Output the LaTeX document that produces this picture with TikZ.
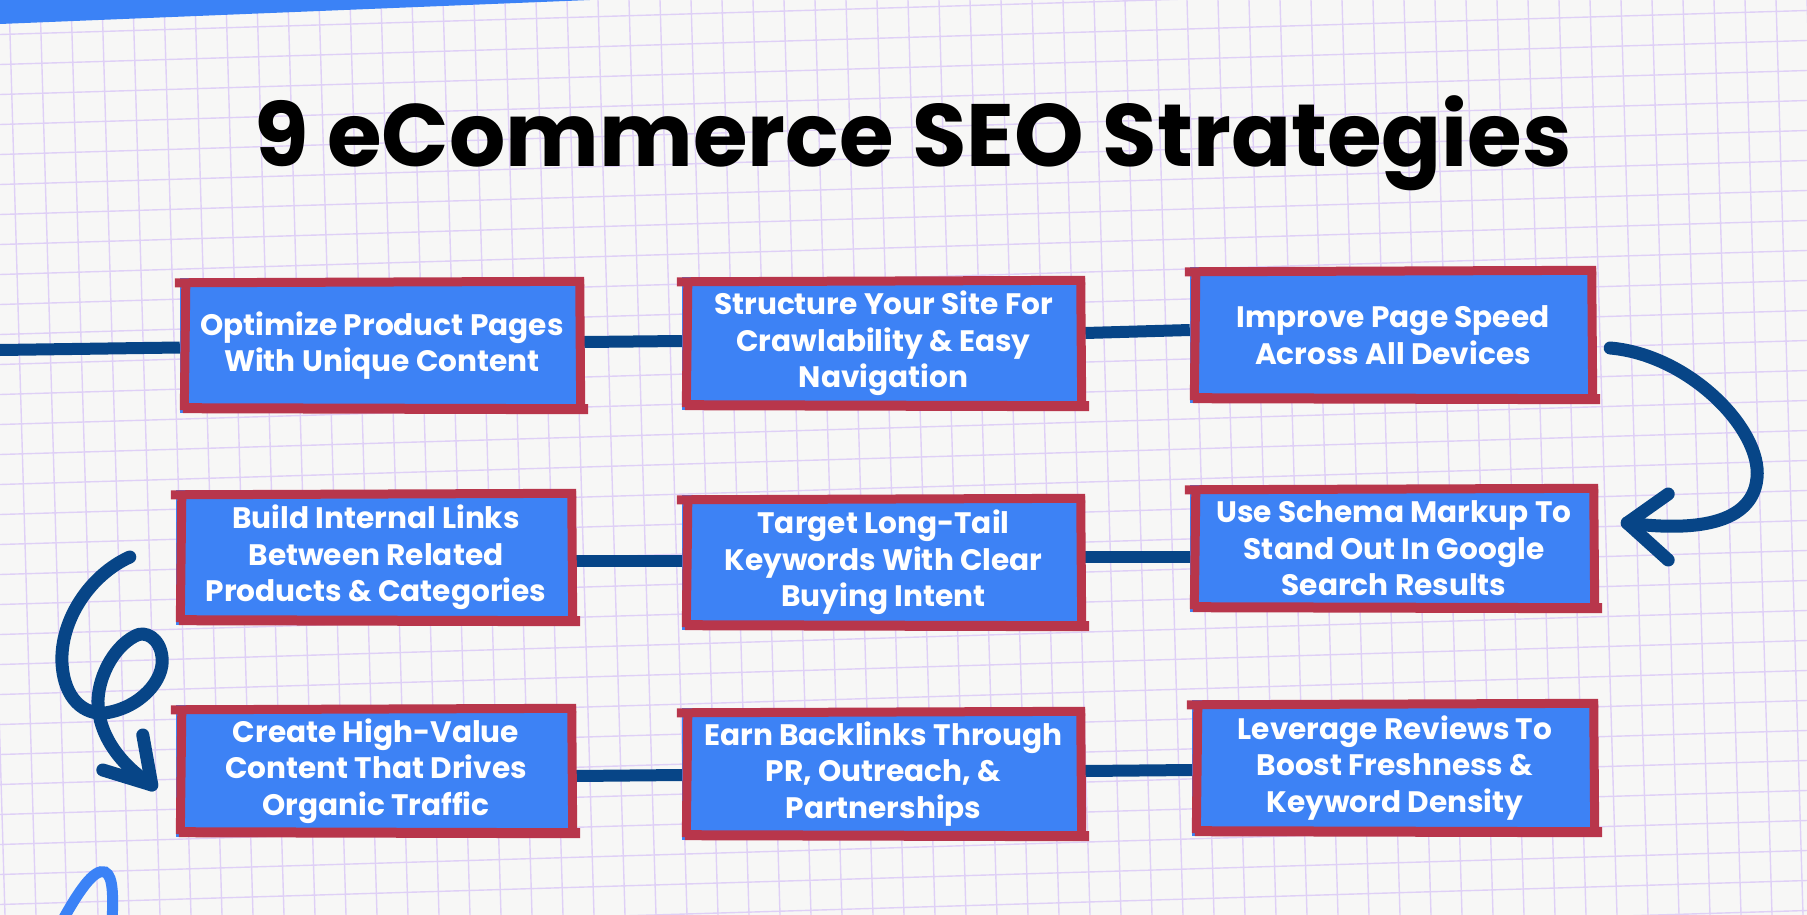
\documentclass[tikz,border=0pt]{standalone}
\usepackage{fontspec}
\usetikzlibrary{calc}
\newfontfamily\poppfam{Poppins}
\newcommand\mytitlefont{\poppfam\bfseries\fontsize{88.5}{100}\selectfont}
\newcommand\myboxfont{\poppfam\bfseries\fontsize{29.6}{36.5}\selectfont}
\definecolor{paper}{HTML}{F7F7F6}
\definecolor{gridc}{HTML}{DFD0F6}
\definecolor{boxblue}{HTML}{3D82F5}
\definecolor{boxred}{HTML}{B8364B}
\definecolor{navy}{HTML}{074587}
\definecolor{lightblue}{HTML}{3B82F6}
\pgfdeclarelayer{paperlayer}
\pgfdeclarelayer{linklayer}
\pgfsetlayers{paperlayer,linklayer,main}
\tikzset{
  stratbox/.style={fill=boxblue, inner sep=0pt, text=white, align=center, font=\myboxfont},
  redline/.style={draw=boxred, line width=9pt},
  link/.style={draw=navy, line width=12pt},
  curvearrow/.style={draw=navy, line width=13pt, line cap=round, line join=round},
  gridline/.style={draw=gridc, line width=1.4pt},
}
\newcommand\sketchbox[1]{%
  \draw[redline] ($(#1.north west)+(-5,5)$) -- ($(#1.north east)+(0,3.5)$);
  \draw[redline] ($(#1.north east)+(-4.5,1)$) -- ($(#1.south east)+(-3.5,-6)$);
  \draw[redline, line width=10pt] ($(#1.south west)+(3,-5)$) -- ($(#1.south east)+(4,-4)$);
  \draw[redline] ($(#1.north west)+(6,7)$) -- ($(#1.south west)+(4.5,-3)$);
}
\begin{document}
\begin{tikzpicture}[x=1pt,y=-1pt]
\useasboundingbox (0,0) rectangle (1807,915);
\begin{pgfonlayer}{paperlayer}
  \fill[paper] (0,0) rectangle (1807,915);
  \begin{scope}
    \clip (0,0) rectangle (1807,915);
    \foreach \i in {0,...,33} {
      \draw[gridline] (0,{4.5+30*\i}) -- (1807,{4.5+30*\i-54});
    }
    \foreach \i in {-1,...,58} {
      \draw[gridline] ({9+31*\i},0) -- ({9+31*\i+27},915);
    }
    % top band
    \fill[lightblue] (0,0) -- (590,0) -- (0,24) -- cycle;
    % bottom-left swoosh
    \draw[lightblue, line width=11pt, line cap=round] (60,925) .. controls (78,892) and (94,868) .. (105,872) .. controls (114,876) and (113,900) .. (112,925);
  \end{scope}
\end{pgfonlayer}

% title
\node[font=\mytitlefont, anchor=base, text=black] (title) at (913,166) {9 eCommerce SEO Strategies};

% boxes
\node[stratbox, minimum width=404, minimum height=135] (b1) at (382,345.5) {Optimize Product Pages\\With Unique Content};
\node[stratbox, minimum width=403, minimum height=133] (b2) at (883.5,343.5) {Structure Your Site For\\Crawlability \& Easy\\Navigation};
\node[stratbox, minimum width=406, minimum height=136] (b3) at (1393,335) {Improve Page Speed\\Across All Devices};
\node[stratbox, minimum width=400, minimum height=135] (b4) at (376,557.5) {Build Internal Links\\Between Related\\Products \& Categories};
\node[stratbox, minimum width=403, minimum height=135] (b5) at (883.5,562.5) {Target Long-Tail\\Keywords With Clear\\Buying Intent};
\node[stratbox, minimum width=408, minimum height=127] (b6) at (1394,548.5) {Use Schema Markup To\\Stand Out In Google\\Search Results};
\node[stratbox, minimum width=400, minimum height=132] (b7) at (376,771) {Create High-Value\\Content That Drives\\Organic Traffic};
\node[stratbox, minimum width=403, minimum height=132] (b8) at (883.5,774) {Earn Backlinks Through\\PR, Outreach, \&\\Partnerships};
\node[stratbox, minimum width=406, minimum height=136] (b9) at (1395,768) {Leverage Reviews To\\Boost Freshness \&\\Keyword Density};

\foreach \b in {b1,b2,b3,b4,b5,b6,b7,b8,b9} { \sketchbox{\b} }

% connectors
\coordinate (lstart) at (0,350);
\coordinate (ra1) at ($(b3.east)+(14,13)$);
\coordinate (ra2) at ($(b6.east)+(29,-25.5)$);
\coordinate (la1) at ($(b4.west)+(-46,-0.5)$);
\coordinate (la2) at ($(b7.west)+(-24,14)$);
\begin{pgfonlayer}{linklayer}
  \draw[link] (lstart) -- ([yshift=-2pt]b1.west);
  \draw[link] ([yshift=3.5pt]b1.east) -- ([yshift=2.5pt]b2.west);
  \draw[link] ([yshift=10.5pt]b2.east) -- ([yshift=5pt]b3.west);
  \draw[link] ([yshift=-3.5pt]b4.east) -- ([yshift=1.5pt]b5.west);
  \draw[link] ([yshift=5.5pt]b5.east) -- ([yshift=-8.5pt]b6.west);
  \draw[link] ([yshift=-5pt]b7.east) -- ([yshift=-1pt]b8.west);
  \draw[link] ([yshift=3pt]b8.east) -- ([yshift=-2pt]b9.west);
\end{pgfonlayer}

% right curved arrow b3 -> b6
\draw[curvearrow] (ra1) .. controls (1690,355) and (1762,430) .. (1757,478) .. controls (1752,530) and (1680,530) .. (ra2);
\draw[curvearrow] ($(ra2)+(41,-29)$) -- (ra2) -- ($(ra2)+(41,37)$);

% left loop arrow b4 -> b7
\draw[curvearrow] (la1) .. controls (90,575) and (60,620) .. (62,663) .. controls (64,700) and (85,715) .. (105,713) .. controls (140,708) and (165,680) .. (162,657) .. controls (160,638) and (145,630) .. (135,636) .. controls (112,648) and (97,680) .. (98,705) .. controls (100,740) and (125,768) .. (la2);
\draw[curvearrow] ($(la2)+(-9,-50)$) -- (la2) -- ($(la2)+(-49,-15)$);
\end{tikzpicture}
\end{document}
